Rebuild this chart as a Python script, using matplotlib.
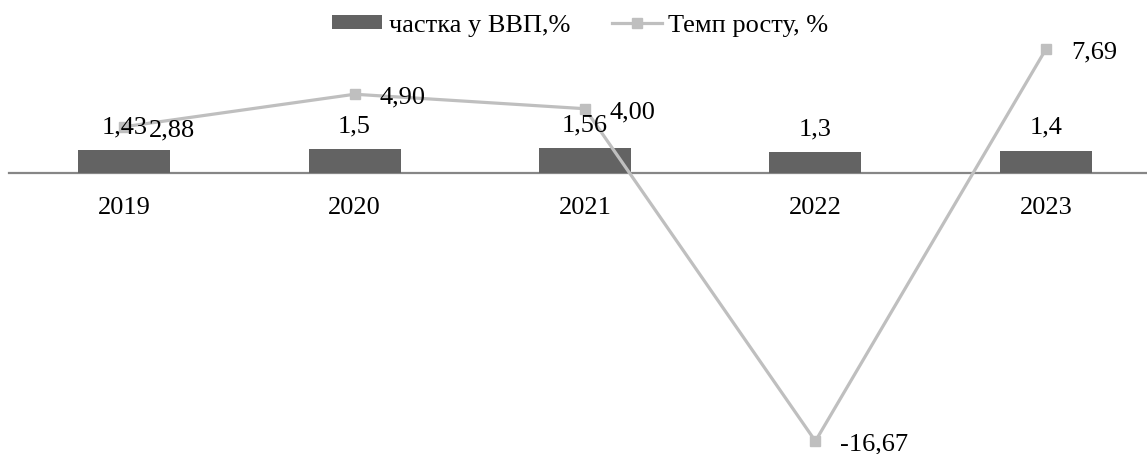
import numpy as np
import matplotlib.pyplot as plt

# Data
years = ["2019", "2020", "2021", "2022", "2023"]
gdp_share = [1.43, 1.5, 1.56, 1.3, 1.4]
growth = [2.88, 4.90, 4.00, -16.67, 7.69]
gdp_labels = ["1,43", "1,5", "1,56", "1,3", "1,4"]
growth_labels = ["2,88", "4,90", "4,00", "-16,67", "7,69"]

plt.rcParams["font.family"] = ["Liberation Serif", "DejaVu Serif"]
plt.rcParams["font.size"] = 19

bar_color = "#636363"
line_color = "#BFBFBF"
axis_color = "#868686"

fig = plt.figure(figsize=(11.47, 4.54), dpi=100)
ax = fig.add_axes([9 / 1147, 0, 1152 / 1147, 1])

x = np.arange(len(years))
bars = ax.bar(x, gdp_share, width=0.4, color=bar_color, label="частка у ВВП,%", zorder=2)
line, = ax.plot(x, growth, color=line_color, lw=2.3, marker="s", markersize=7.5,
                label="Темп росту, %", zorder=3)

ax.set_xlim(-0.5, len(years) - 0.5)
ax.set_ylim(-17.47, 10.76)

# bar value labels
for xi, v, lab in zip(x, gdp_share, gdp_labels):
    ax.annotate(lab, (xi, v), xytext=(0, 8.5), textcoords="offset points",
                ha="center", va="bottom", color="black")

# line value labels
for xi, v, lab in zip(x, growth, growth_labels):
    ax.annotate(lab, (xi, v), xytext=(18, -2.5), textcoords="offset points",
                ha="left", va="center", color="black")

# axis styling
for s in ["top", "right", "left"]:
    ax.spines[s].set_visible(False)
ax.spines["bottom"].set_position(("data", 0))
ax.spines["bottom"].set_color(axis_color)
ax.spines["bottom"].set_linewidth(1.6)
ax.spines["bottom"].set_zorder(1)
ax.set_yticks([])
ax.set_xticks(x)
ax.set_xticklabels(years)
ax.tick_params(axis="x", length=0, pad=17)

fig.legend(handles=[bars, line], loc="upper center", bbox_to_anchor=(0.506, 1.02),
           ncol=2, frameon=False, handlelength=1.9, handleheight=0.45,
           handletextpad=0.23, columnspacing=1.6, fontsize=19)

plt.savefig("out.png", dpi=100)
